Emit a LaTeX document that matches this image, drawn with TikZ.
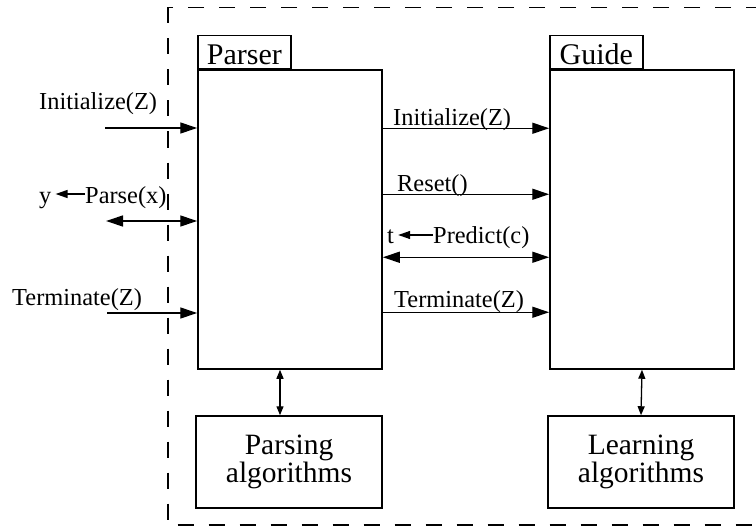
\documentclass[tikz,border=0pt]{standalone}
\usepackage{fontspec}
\setmainfont{Liberation Serif}
\usetikzlibrary{arrows.meta}

\begin{document}
\begin{tikzpicture}[x=1pt,y=-1pt,
    box/.style={draw,line width=1.5pt,rectangle,inner sep=0pt},
    tag/.style={draw,line width=1.3pt,rectangle,inner xsep=0pt,inner ysep=2pt,
        minimum width=93pt,text height=27pt,text depth=2pt,font=\fontsize{30}{32}\selectfont},
    alg/.style={box,minimum width=186pt,minimum height=92pt,align=center,
        font=\fontsize{29.5}{28}\selectfont},
    lbl/.style={anchor=base west,inner sep=0pt,font=\fontsize{24.4}{28}\selectfont},
    msg/.style={line width=1.3pt,-{Triangle[length=17pt,width=11pt]}},
    dmsg/.style={line width=1.3pt,{Triangle[length=17pt,width=11pt]}-{Triangle[length=17pt,width=11pt]}},
    ret/.style={line width=1.3pt,-{Triangle[length=12pt,width=8pt]},shorten >=4pt},
    link/.style={line width=1.3pt,{Triangle[length=9pt,width=7pt]}-{Triangle[length=9pt,width=7pt]}}]
        \useasboundingbox (0,0) rectangle (756,527);
        \clip (0,0) rectangle (756,527);
        % dashed frame
        \path[draw,line width=1.2pt,dash pattern=on 16pt off 15pt] (168,7.5) rectangle (800,525);

        \node[box,minimum width=184pt,minimum height=299pt] (parser) at (290,219.5) {};
        \node[box,minimum width=184pt,minimum height=299pt] (guide) at (642,219.5) {};
        \node[tag,anchor=south west] (parserTag) at (parser.north west) {Parser};
        \node[tag,anchor=south west] (guideTag) at (guide.north west) {Guide};
        \node[alg] (parsAlg) at (289,462) {Parsing\\algorithms};
        \node[alg] (learnAlg) at (641,462) {Learning\\algorithms};

        % calls coming in from outside
        \coordinate (inInit) at (105,128);
        \coordinate (inParse) at (106,221);
        \coordinate (inTerm) at (107,313);
        \path[draw,msg] (inInit) -- (inInit -| parser.west);
        \path[draw,dmsg] (inParse) -- (inParse -| parser.west);
        \path[draw,msg] (inTerm) -- (inTerm -| parser.west);
        \node[lbl] (lInit) at (39,110) {Initialize(Z)};
        \node[lbl] (yL) at (39,203) {y};
        \node[lbl] (lParse) at (85,203) {Parse(x)};
        \node[lbl] (lTerm) at (12,305) {Terminate(Z)};
        \path[draw,ret] ([yshift=9pt]lParse.base west) -- ([yshift=9pt]yL.base east);

        % parser to guide
        \path[draw,msg] ([yshift=-59pt]parser.north east) -- ([yshift=-59pt]guide.north west);
        \path[draw,msg] ([yshift=-125pt]parser.north east) -- ([yshift=-125pt]guide.north west);
        \path[draw,dmsg] ([yshift=-188pt]parser.north east) -- ([yshift=-188pt]guide.north west);
        \path[draw,msg] ([yshift=-243pt]parser.north east) -- ([yshift=-243pt]guide.north west);
        \node[lbl] (rInit) at (393,126) {Initialize(Z)};
        \node[lbl] (rReset) at (397,191) {Reset()};
        \node[lbl] (tL) at (387,243) {t};
        \node[lbl] (rPredict) at (433,243) {Predict(c)};
        \node[lbl] (rTerm) at (394,307) {Terminate(Z)};
        \path[draw,ret] ([yshift=8pt]rPredict.base west) -- ([yshift=8pt]tL.base east);

        % algorithms
        \path[draw,link] ([xshift=-10pt]parser.south) -- ([xshift=-9pt]parsAlg.north);
        \path[draw,link] (guide.south) -- (learnAlg.north);
    \end{tikzpicture}
\end{document}
